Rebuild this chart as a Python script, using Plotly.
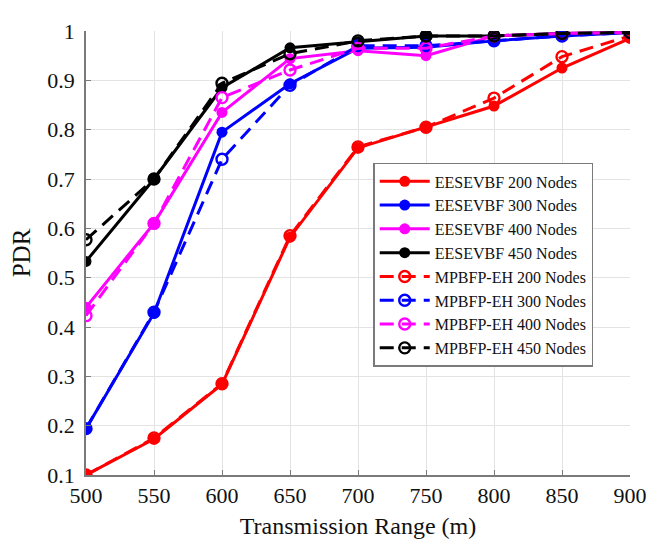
import plotly.graph_objects as go

x_range = [500, 550, 600, 650, 700, 750, 800, 850, 900]

eesevbf_200 = [0.100, 0.173, 0.284, 0.582, 0.763, 0.805, 0.848, 0.925, 0.985]
eesevbf_300 = [0.194, 0.428, 0.795, 0.893, 0.965, 0.967, 0.980, 0.990, 0.997]
eesevbf_400 = [0.440, 0.610, 0.835, 0.944, 0.960, 0.950, 0.990, 0.995, 0.997]
eesevbf_450 = [0.533, 0.700, 0.885, 0.966, 0.978, 0.990, 0.990, 0.995, 0.997]

mpbfp_200 = [0.100, 0.175, 0.285, 0.585, 0.765, 0.805, 0.864, 0.948, 0.990]
mpbfp_300 = [0.194, 0.430, 0.740, 0.890, 0.970, 0.970, 0.980, 0.990, 0.997]
mpbfp_400 = [0.423, 0.610, 0.865, 0.921, 0.965, 0.965, 0.990, 0.995, 0.997]
mpbfp_450 = [0.577, 0.700, 0.894, 0.954, 0.980, 0.990, 0.990, 0.995, 0.997]

y_ticks = [0.1, 0.2, 0.3, 0.4, 0.5, 0.6, 0.7, 0.8, 0.9, 1.0]
y_tick_text = ["0.1", "0.2", "0.3", "0.4", "0.5", "0.6", "0.7", "0.8", "0.9", "1"]

series = [
    ("EESEVBF 200 Nodes", eesevbf_200, "#ff0000", False),
    ("EESEVBF 300 Nodes", eesevbf_300, "#0000ff", False),
    ("EESEVBF 400 Nodes", eesevbf_400, "#ff00ff", False),
    ("EESEVBF 450 Nodes", eesevbf_450, "#000000", False),
    ("MPBFP-EH 200 Nodes", mpbfp_200, "#ff0000", True),
    ("MPBFP-EH 300 Nodes", mpbfp_300, "#0000ff", True),
    ("MPBFP-EH 400 Nodes", mpbfp_400, "#ff00ff", True),
    ("MPBFP-EH 450 Nodes", mpbfp_450, "#000000", True),
]

FONT = "Liberation Serif, Times New Roman, serif"

fig = go.Figure()
for i, (name, vals, color, dashed) in enumerate(series):
    if dashed:
        marker = dict(symbol="circle-open", size=11, color=color, line=dict(width=2.4, color=color))
        line = dict(color=color, width=3, dash="14px,8px")
    else:
        marker = dict(symbol="circle", size=11, color=color)
        line = dict(color=color, width=3)
    fig.add_trace(go.Scatter(
        x=x_range, y=vals, name=name, mode="lines+markers",
        line=line, marker=marker, legendgroup=f"g{i}",
    ))

axis_common = dict(
    showline=True, linecolor="#7a7a7a", linewidth=1.5,
    showgrid=True, gridcolor="#e3e3e3", gridwidth=1,
    ticks="inside", ticklen=5, tickcolor="#7a7a7a", tickwidth=1.2,
    zeroline=False, mirror=False, ticklabeloverflow="allow",
    tickfont=dict(family=FONT, size=22, color="#111111"),
)

fig.update_layout(
    width=653, height=538,
    margin=dict(l=78, r=31, t=11, b=63),
    paper_bgcolor="white", plot_bgcolor="white",
    font=dict(family=FONT, color="#111111"),
    xaxis=dict(
        range=[500, 900], tickmode="array", tickvals=x_range,
        title=dict(text="Transmission Range (m)", font=dict(family=FONT, size=24), standoff=10),
        **axis_common,
    ),
    yaxis=dict(
        range=[0.1, 1.0], tickmode="array", tickvals=y_ticks, ticktext=y_tick_text,
        title=dict(text="PDR", font=dict(family=FONT, size=25), standoff=10),
        ticklabelstandoff=5,
        **axis_common,
    ),
    legend=dict(
        x=0.528, y=0.703, xanchor="left", yanchor="top",
        bgcolor="white", bordercolor="#7a7a7a", borderwidth=1.5,
        font=dict(family=FONT, size=16, color="#111111"),
        tracegroupgap=0, itemwidth=50,
    ),
    showlegend=True,
)

fig.write_html("out.html")
